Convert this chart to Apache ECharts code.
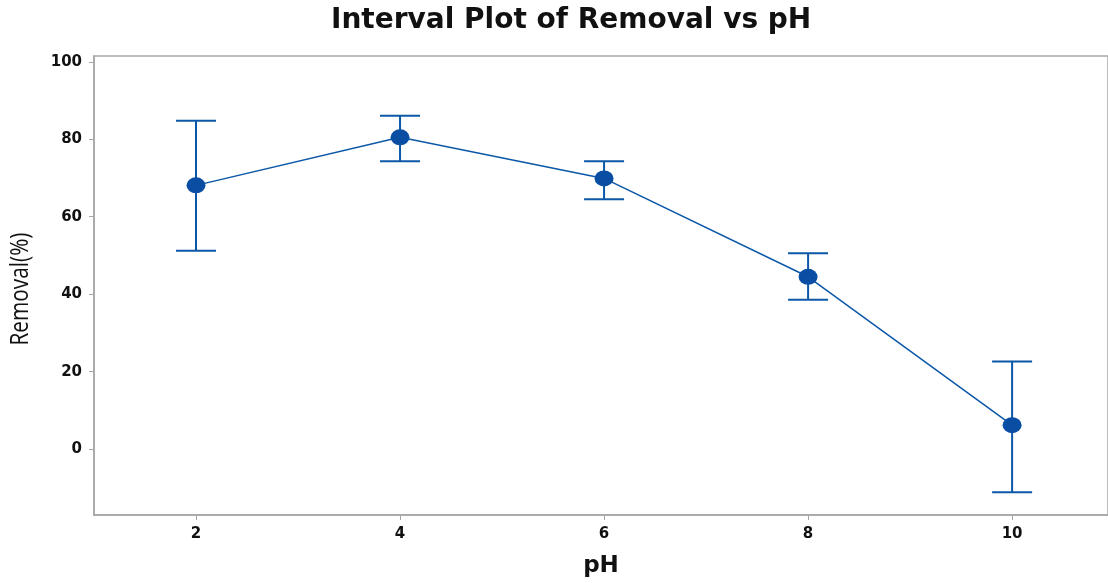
<!DOCTYPE html>
<html><head><meta charset="utf-8">
<script src="https://cdn.jsdelivr.net/npm/echarts@6/dist/echarts.min.js"></script>
<style>html,body{margin:0;padding:0;background:#fff}#c{width:1108px;height:583px}</style>
</head><body><div id="c"></div>
<script>
const phValues = [2, 4, 6, 8, 10];
const means = [68.1, 80.5, 69.9, 44.5, 6.2];
const upper = [84.8, 86.1, 74.3, 50.6, 22.6];
const lower = [51.2, 74.3, 64.5, 38.6, -11.1];
const yTicks = [0, 20, 40, 60, 80, 100];
const xTicks = [2, 4, 6, 8, 10];

const blue = '#0b57a8';
const axisGray = '#a6a6a6';
const chart = echarts.init(document.getElementById('c'));
chart.setOption({
  animation: false,
  title: {
    text: 'Interval Plot of Removal vs pH',
    left: 326, top: 2,
    textStyle: {fontFamily: 'DejaVu Sans', fontWeight: 'bold', fontSize: 28, color: '#111'}
  },
  graphic: [{
    type: 'text',
    x: 21, y: 289,
    rotation: Math.PI / 2,
    scaleX: 0.8,
    style: {
      text: 'Removal(%)',
      font: '26px "Open Sans"',
      fill: '#111',
      align: 'center',
      verticalAlign: 'middle'
    }
  }],
  grid: {left: 94, right: 0, top: 56, bottom: 66, show: true, borderColor: axisGray, borderWidth: 1.5},
  xAxis: {
    type: 'value', min: 1, max: 10.94,
    name: 'pH', nameLocation: 'middle', nameGap: 40,
    nameTextStyle: {fontFamily: 'DejaVu Sans', fontWeight: 'bold', fontSize: 23, color: '#111'},
    axisLine: {show: true, onZero: false, lineStyle: {color: axisGray, width: 1.5}},
    axisTick: {show: true, length: 5, customValues: xTicks, lineStyle: {color: axisGray}},
    axisLabel: {customValues: xTicks, fontFamily: 'DejaVu Sans', fontWeight: 'bold', fontSize: 15, color: '#111', margin: 12},
    splitLine: {show: false}
  },
  yAxis: {
    type: 'value', min: -17, max: 101.5,
    axisLine: {show: true, lineStyle: {color: axisGray, width: 1.5}},
    axisTick: {show: true, length: 5, customValues: yTicks, lineStyle: {color: axisGray}},
    axisLabel: {customValues: yTicks, fontFamily: 'DejaVu Sans', fontWeight: 'bold', fontSize: 15, color: '#111', margin: 12},
    splitLine: {show: false}
  },
  series: [
    {
      type: 'custom',
      data: phValues.map((x, i) => [x, lower[i], upper[i]]),
      renderItem: function (params, api) {
        const x = api.value(0);
        const lo = api.coord([x, api.value(1)]);
        const hi = api.coord([x, api.value(2)]);
        const hw = 20;
        const style = {stroke: blue, lineWidth: 2, fill: null};
        return {
          type: 'group',
          children: [
            {type: 'line', shape: {x1: hi[0], y1: hi[1], x2: lo[0], y2: lo[1]}, style: style},
            {type: 'line', shape: {x1: hi[0] - hw, y1: hi[1], x2: hi[0] + hw, y2: hi[1]}, style: style},
            {type: 'line', shape: {x1: lo[0] - hw, y1: lo[1], x2: lo[0] + hw, y2: lo[1]}, style: style}
          ]
        };
      },
      z: 2
    },
    {
      type: 'line',
      data: phValues.map((x, i) => [x, means[i]]),
      symbol: 'circle', symbolSize: [19, 16],
      itemStyle: {color: '#0a4ea3'},
      lineStyle: {color: blue, width: 1.5},
      z: 3
    }
  ]
});
</script></body></html>
